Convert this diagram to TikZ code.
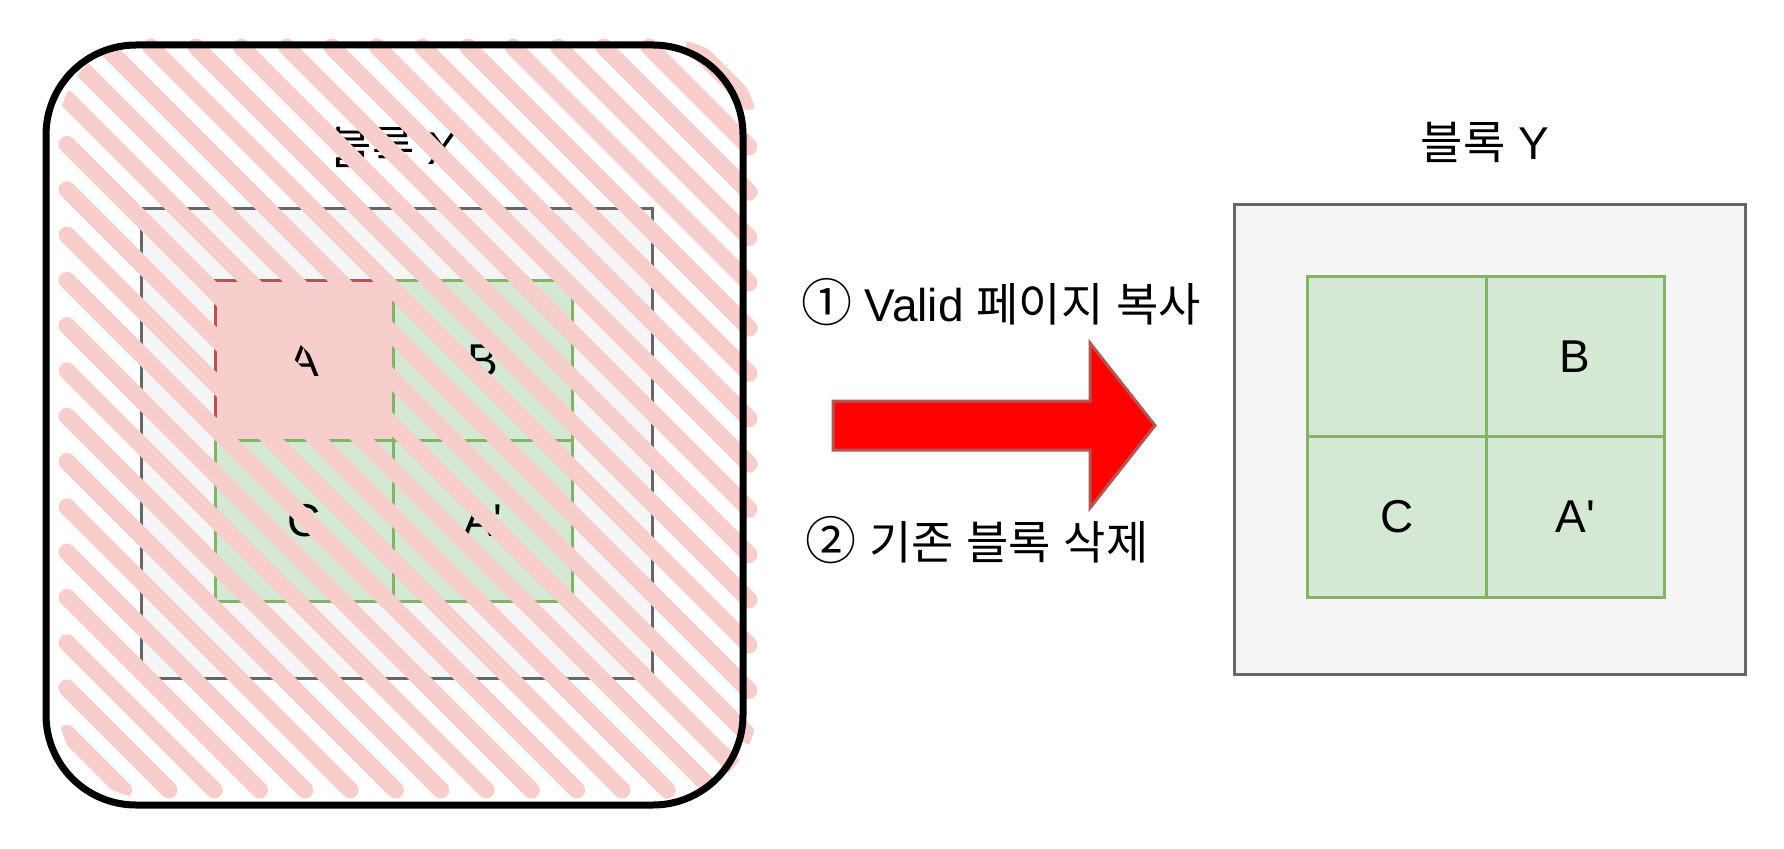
\documentclass[tikz,border=0pt]{standalone}
\usepackage{fontspec}
\setmainfont{Liberation Sans}
\newfontfamily\kr{Noto Sans CJK KR}
\definecolor{hatchpink}{HTML}{F8CECC}
\definecolor{redstroke}{HTML}{B85450}
\definecolor{greenfill}{HTML}{D5E8D4}
\definecolor{greenstroke}{HTML}{82B366}
\definecolor{grayfill}{HTML}{F5F5F5}
\definecolor{graystroke}{HTML}{666666}
\newcommand{\circnum}[1]{{\kr\fontsize{51}{55}\selectfont #1}}
\tikzset{
  txt/.style={font=\fontsize{46}{55}\selectfont, inner sep=0pt},
  blockbox/.style={rectangle, draw=graystroke, fill=grayfill, line width=3pt,
    minimum width=511pt, minimum height=470pt, inner sep=0pt},
  greencell/.style={rectangle, draw=greenstroke, fill=greenfill, line width=3pt,
    minimum width=178.5pt, minimum height=160.5pt, inner sep=0pt, txt},
  redcell/.style={greencell, draw=redstroke, fill=hatchpink},
  hatchline/.style={draw=hatchpink, line width=17pt, line cap=round},
  outerbox/.style={rectangle, draw=black, line width=7pt, rounded corners=90pt,
    minimum width=697pt, minimum height=760pt, inner sep=0pt},
  bigarrow/.style={fill=red, draw=redstroke, line width=3pt, line join=miter}
}
\begin{document}
\begin{tikzpicture}[x=1pt, y=-1pt]
\useasboundingbox (0,0) rectangle (1784,848);
% ---- left (old block X) ----
\node[blockbox] (lg) at (397,443.5) {};
\node[redcell]   (la)  at (304.25,360.5) {A};
\node[greencell] (lb)  at (482.75,360.5) {B};
\node[greencell] (lc)  at (304.25,521) {C};
\node[greencell] (lap) at (482.75,521) {A\textquotesingle};
\node[txt] (lt) at (394,147) {{\kr 블록} X};
% hatch
\begin{scope}
\clip[rounded corners=95pt] (58,38) rectangle (758,799);
\foreach \k in {-16,...,17}{
  \pgfmathsetmacro\xo{14.9+45.3*\k}
  \pgfmathsetmacro\xs{max(\xo,67)}
  \pgfmathsetmacro\ys{47+(\xs-\xo)}
  \pgfmathsetmacro\xe{min(\xo+743,749)}
  \pgfmathsetmacro\ye{47+(\xe-\xo)}
  \pgfmathtruncatemacro\ok{and(\ys<790,\xo<749)}
  \ifnum\ok=1 \draw[hatchline] (\xs,\ys) -- (\xe,\ye);\fi
}
\end{scope}
\node[outerbox] (ob) at (394.5,425) {};
% ---- arrow and labels ----
\draw[bigarrow] (833,401) -- (1090,401) -- (1090,343) -- (1155,425.5)
  -- (1090,508) -- (1090,450) -- (833,450) -- cycle;
\node[txt] (s1) at (1001,302) {\circnum{①} Valid {\kr 페이지} {\kr 복사}};
\node[txt] (s2) at (977,540) {\circnum{②} {\kr 기존} {\kr 블록} {\kr 삭제}};
% ---- right (new block Y) ----
\node[blockbox] (rg) at (1490,439) {};
\node[greencell] (ra)  at (1396.75,356.25) {};
\node[greencell] (rb)  at (1575.25,356.25) {B};
\node[greencell] (rc)  at (1396.75,516.75) {C};
\node[greencell] (rap) at (1575.25,516.75) {A\textquotesingle};
\node[txt] (rt) at (1485,142) {{\kr 블록} Y};
\end{tikzpicture}
\end{document}
